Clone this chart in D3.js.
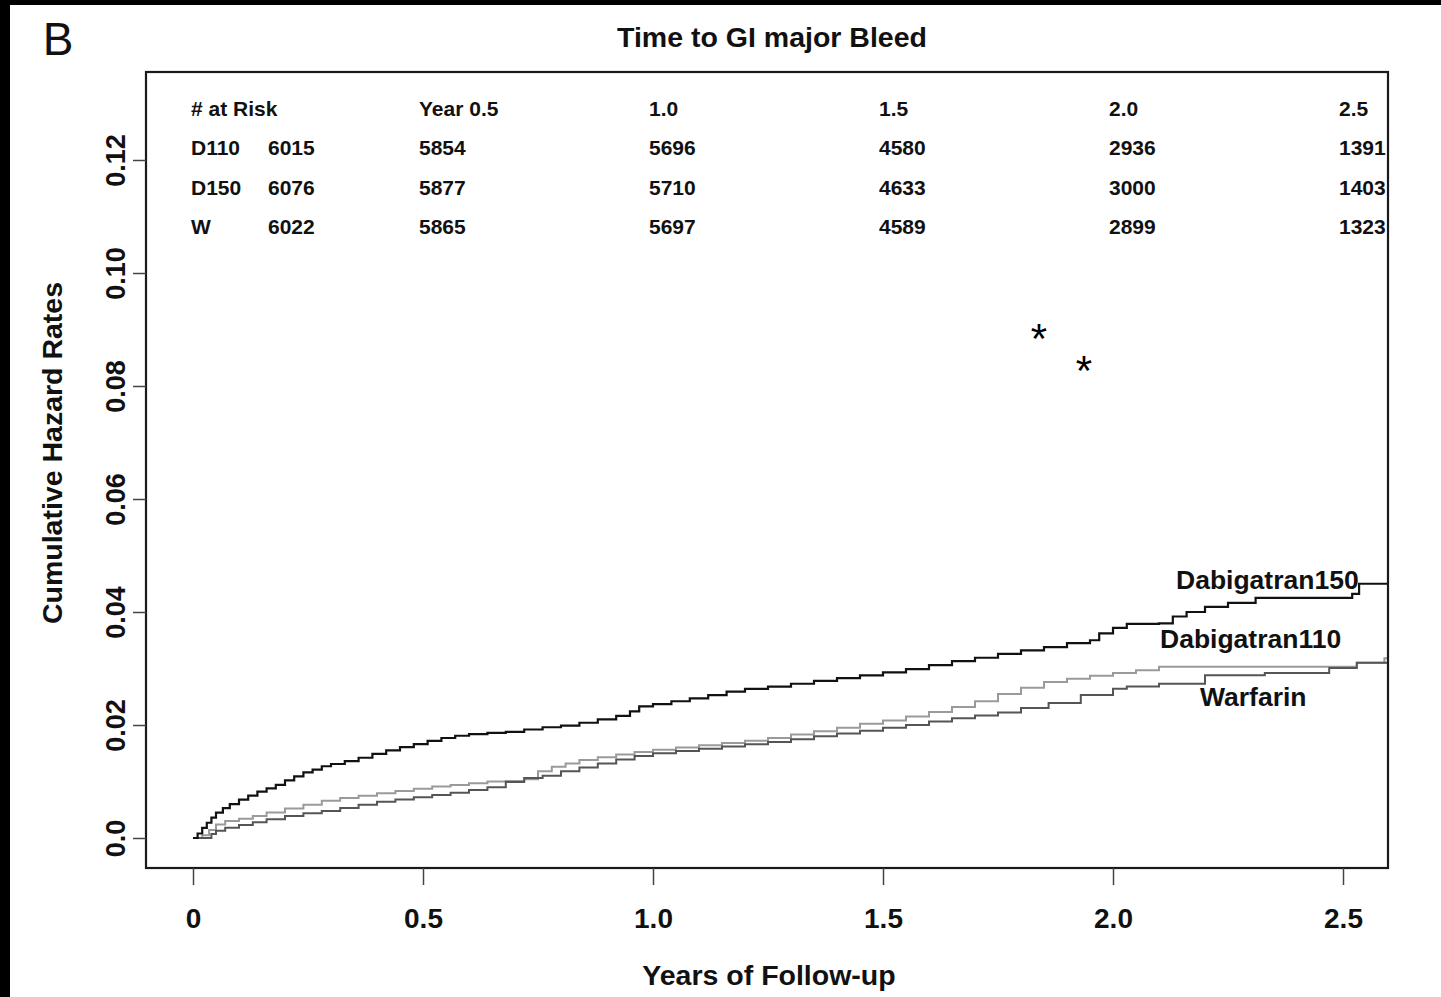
<!DOCTYPE html>
<html>
<head>
<meta charset="utf-8">
<script src="https://cdn.jsdelivr.net/npm/d3@7"></script>
<style>
  html, body { margin: 0; padding: 0; background: #fff; }
  svg text { font-family: "Liberation Sans", Arial, Helvetica, sans-serif; }
</style>
</head>
<body>
<svg id="chart" width="1441" height="997"></svg>
<script>
// cumulative hazard, step points [years, rate]
var dabi150 = [[0,0],[0.01,0.0008],[0.02,0.0018],[0.03,0.0027],[0.04,0.0036],[0.05,0.0045],[0.065,0.0053],[0.08,0.006],
  [0.1,0.0068],[0.12,0.0075],[0.14,0.0082],[0.16,0.0088],[0.18,0.0094],[0.2,0.0102],[0.22,0.0109],[0.24,0.0116],
  [0.26,0.0121],[0.28,0.0127],[0.3,0.0131],[0.33,0.0136],[0.36,0.0142],[0.39,0.0149],[0.42,0.0155],[0.45,0.0161],
  [0.48,0.0166],[0.51,0.0172],[0.54,0.0177],[0.57,0.0181],[0.6,0.0184],[0.64,0.0186],[0.68,0.0188],[0.72,0.0192],
  [0.76,0.0196],[0.8,0.0199],[0.84,0.0204],[0.88,0.021],[0.92,0.0216],[0.95,0.0224],[0.97,0.0233],[1.0,0.0237],
  [1.04,0.0242],[1.08,0.0247],[1.12,0.0253],[1.16,0.0259],[1.2,0.0264],[1.25,0.0268],[1.3,0.0273],[1.35,0.0278],
  [1.4,0.0283],[1.45,0.0288],[1.5,0.0293],[1.55,0.0299],[1.6,0.0306],[1.65,0.0313],[1.7,0.0319],[1.75,0.0326],
  [1.8,0.0332],[1.85,0.0338],[1.9,0.0345],[1.95,0.035],[1.97,0.0362],[2.0,0.0372],[2.03,0.0379],[2.1,0.038],
  [2.13,0.0392],[2.16,0.04],[2.2,0.0409],[2.25,0.0416],[2.31,0.0425],[2.52,0.0432],[2.535,0.045],[2.6,0.045]];

var dabi110 = [[0,0],[0.02,0.0005],[0.035,0.0014],[0.05,0.0024],[0.07,0.003],[0.1,0.0034],[0.13,0.0039],[0.16,0.0045],
  [0.2,0.0052],[0.24,0.0059],[0.28,0.0066],[0.32,0.0071],[0.36,0.0075],[0.4,0.0079],[0.44,0.0083],[0.48,0.0087],
  [0.52,0.0091],[0.56,0.0094],[0.6,0.0097],[0.64,0.01],[0.68,0.0101],[0.72,0.0104],[0.75,0.0118],[0.78,0.0126],
  [0.81,0.0132],[0.84,0.0138],[0.88,0.0143],[0.92,0.0148],[0.96,0.0152],[1.0,0.0156],[1.05,0.016],[1.1,0.0164],
  [1.15,0.0168],[1.2,0.0172],[1.25,0.0177],[1.3,0.0183],[1.35,0.0189],[1.4,0.0195],[1.45,0.0202],[1.5,0.0208],
  [1.55,0.0215],[1.6,0.0223],[1.65,0.0232],[1.7,0.0242],[1.75,0.0255],[1.8,0.0266],[1.85,0.0276],[1.9,0.0282],
  [1.95,0.0287],[2.0,0.0292],[2.05,0.0297],[2.1,0.0303],[2.53,0.031],[2.59,0.0318],[2.6,0.0318]];

var warfarin = [[0,0],[0.03,0],[0.04,0.0007],[0.05,0.0013],[0.07,0.0018],[0.1,0.0023],[0.13,0.0028],[0.16,0.0033],
  [0.2,0.0039],[0.24,0.0044],[0.28,0.0048],[0.32,0.0053],[0.36,0.0059],[0.4,0.0064],[0.44,0.0068],[0.48,0.0072],
  [0.52,0.0076],[0.56,0.008],[0.6,0.0085],[0.64,0.009],[0.68,0.0099],[0.72,0.0106],[0.76,0.011],[0.8,0.0118],
  [0.84,0.0125],[0.88,0.0132],[0.92,0.0139],[0.96,0.0145],[1.0,0.015],[1.05,0.0154],[1.1,0.0158],[1.15,0.0162],
  [1.2,0.0166],[1.25,0.017],[1.3,0.0175],[1.35,0.018],[1.4,0.0185],[1.45,0.019],[1.5,0.0195],[1.55,0.02],
  [1.6,0.0206],[1.65,0.0212],[1.7,0.0217],[1.75,0.0222],[1.8,0.023],[1.86,0.0239],[1.93,0.0253],[2.0,0.0264],
  [2.03,0.0268],[2.1,0.0273],[2.2,0.0288],[2.33,0.0292],[2.47,0.0301],[2.53,0.031],[2.6,0.031]];

var xTicks = [0, 0.5, 1.0, 1.5, 2.0, 2.5];
var xTickLabels = ["0", "0.5", "1.0", "1.5", "2.0", "2.5"];
var yTicks = [0, 0.02, 0.04, 0.06, 0.08, 0.10, 0.12];
var yTickLabels = ["0.0", "0.02", "0.04", "0.06", "0.08", "0.10", "0.12"];

// number at risk table
var riskHeader = ["# at Risk", "Year 0.5", "1.0", "1.5", "2.0", "2.5"];
var riskGroups = ["D110", "D150", "W"];
var riskTimes = [0.5, 1.0, 1.5, 2.0, 2.5];
var riskAtStart = [6015, 6076, 6022];
var riskCounts = [
  [5854, 5696, 4580, 2936, 1391],
  [5877, 5710, 4633, 3000, 1403],
  [5865, 5697, 4589, 2899, 1323]
];

var svg = d3.select("#chart");
var box = {left: 146, right: 1388, top: 72, bottom: 868};

var x = d3.scaleLinear().domain([0, 2.5]).range([193, 1343]);
var y = d3.scaleLinear().domain([0, 0.12]).range([838, 160]);

// black scan edges
svg.append("rect").attr("x", 0).attr("y", 0).attr("width", 1441).attr("height", 5).attr("fill", "#000");
svg.append("rect").attr("x", 0).attr("y", 0).attr("width", 10).attr("height", 997).attr("fill", "#000");

svg.append("defs").append("clipPath").attr("id", "plotclip")
  .append("rect").attr("x", box.left).attr("y", box.top)
  .attr("width", box.right - box.left).attr("height", box.bottom - box.top);

var line = d3.line()
  .x(function(d) { return x(d[0]); })
  .y(function(d) { return y(d[1]); })
  .curve(d3.curveStepAfter);

var curves = svg.append("g").attr("clip-path", "url(#plotclip)");
curves.append("path").datum(dabi110).attr("d", line)
  .attr("fill", "none").attr("stroke", "#9a9a9a").attr("stroke-width", 2);
curves.append("path").datum(warfarin).attr("d", line)
  .attr("fill", "none").attr("stroke", "#555").attr("stroke-width", 2);
curves.append("path").datum(dabi150).attr("d", line)
  .attr("fill", "none").attr("stroke", "#111").attr("stroke-width", 2.2);

// frame
svg.append("rect").attr("x", box.left).attr("y", box.top)
  .attr("width", box.right - box.left).attr("height", box.bottom - box.top)
  .attr("fill", "none").attr("stroke", "#1a1a1a").attr("stroke-width", 2.2);

// axes
var xAxis = svg.append("g").attr("transform", "translate(0," + box.bottom + ")")
  .call(d3.axisBottom(x).tickValues(xTicks).tickSize(17)
    .tickFormat(function(d, i) { return xTickLabels[i]; }));
xAxis.select(".domain").remove();
xAxis.selectAll("line").attr("stroke", "#444").attr("stroke-width", 1.5);
xAxis.selectAll("text").attr("y", 60).attr("dy", 0)
  .attr("fill", "#111").style("font-size", "28px").style("font-weight", "bold")
  .style("font-family", "'Liberation Sans', Arial, sans-serif");

var yAxis = svg.append("g").attr("transform", "translate(" + box.left + ",0)")
  .call(d3.axisLeft(y).tickValues(yTicks).tickSize(13)
    .tickFormat(function(d, i) { return yTickLabels[i]; }));
yAxis.select(".domain").remove();
yAxis.selectAll("line").attr("stroke", "#444").attr("stroke-width", 1.5);
yAxis.selectAll("text").attr("x", 0).attr("dy", 0)
  .attr("text-anchor", "middle")
  .attr("transform", "translate(-21,0) rotate(-90)")
  .attr("fill", "#111").style("font-size", "27px").style("font-weight", "bold")
  .style("font-family", "'Liberation Sans', Arial, sans-serif");

// titles
svg.append("text").attr("x", 58).attr("y", 55).attr("text-anchor", "middle")
  .style("font-size", "46px").attr("fill", "#111").text("B");
svg.append("text").attr("x", 772).attr("y", 47).attr("text-anchor", "middle")
  .style("font-size", "28.5px").style("font-weight", "bold").attr("fill", "#111")
  .text("Time to GI major Bleed");
svg.append("text").attr("x", 769).attr("y", 985).attr("text-anchor", "middle")
  .style("font-size", "28.5px").style("font-weight", "bold").attr("fill", "#111")
  .text("Years of Follow-up");
svg.append("text").attr("transform", "translate(62,453) rotate(-90)").attr("text-anchor", "middle")
  .style("font-size", "28.5px").style("font-weight", "bold").attr("fill", "#111")
  .text("Cumulative Hazard Rates");

// at risk table
var table = svg.append("g").attr("clip-path", "url(#plotclip)")
  .style("font-size", "21px").style("font-weight", "bold").attr("fill", "#111");
var rowY = [116, 155, 195, 234];
var colX = riskTimes.map(function(t) { return x(t) - 4; });

table.append("text").attr("x", x(0) - 2).attr("y", rowY[0]).text(riskHeader[0]);
riskHeader.slice(1).forEach(function(h, i) {
  table.append("text").attr("x", colX[i]).attr("y", rowY[0]).text(h);
});
riskGroups.forEach(function(g, r) {
  table.append("text").attr("x", x(0) - 2).attr("y", rowY[r + 1]).text(g);
  table.append("text").attr("x", x(0) + 75).attr("y", rowY[r + 1]).text(riskAtStart[r]);
  riskCounts[r].forEach(function(v, i) {
    table.append("text").attr("x", colX[i]).attr("y", rowY[r + 1]).text(v);
  });
});

// curve labels
var labels = svg.append("g").style("font-size", "26.5px").style("font-weight", "bold").attr("fill", "#111");
labels.append("text").attr("x", 1176).attr("y", 589).text("Dabigatran150");
labels.append("text").attr("x", 1160).attr("y", 648).text("Dabigatran110");
labels.append("text").attr("x", 1200).attr("y", 706).text("Warfarin");

// significance marks
svg.append("text").attr("x", 1039).attr("y", 353).attr("text-anchor", "middle")
  .style("font-size", "42px").attr("fill", "#000").text("*");
svg.append("text").attr("x", 1084).attr("y", 385).attr("text-anchor", "middle")
  .style("font-size", "42px").attr("fill", "#000").text("*");
</script>
</body>
</html>
